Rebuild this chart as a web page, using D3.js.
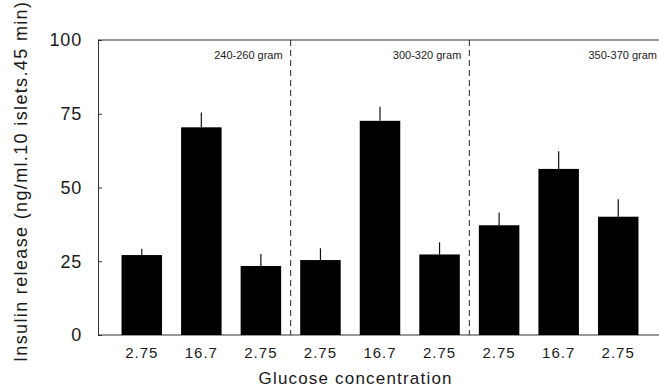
<!DOCTYPE html>
<html>
<head>
<meta charset="utf-8">
<script src="https://cdn.jsdelivr.net/npm/d3@7"></script>
<style>
  body { margin: 0; background: #fff; }
  text { font-family: "Liberation Sans", Arial, sans-serif; fill: #1a1a1a; }
</style>
</head>
<body>
<div id="chart"></div>
<script>
// data
const glucose = ["2.75", "16.7", "2.75", "2.75", "16.7", "2.75", "2.75", "16.7", "2.75"];
const insulin = [27.1, 70.4, 23.4, 25.4, 72.6, 27.3, 37.2, 56.3, 40.1];
const sem = [2.1, 5.0, 4.1, 4.0, 4.8, 4.1, 4.3, 6.0, 5.9];
const groups = ["240-260 gram", "300-320 gram", "350-370 gram"];
const yTicks = [0, 25, 50, 75, 100];

const width = 659, height = 392;
const plotLeft = 98, plotRight = 659, plotTop = 40, plotBottom = 335;

const svg = d3.select("#chart").append("svg")
    .attr("width", width)
    .attr("height", height);

const ids = glucose.map((g, i) => i);

const x = d3.scaleBand()
    .domain(ids)
    .range([112, 648])
    .paddingInner(0.32)
    .paddingOuter(0.16);

const y = d3.scaleLinear()
    .domain([0, 100])
    .range([plotBottom, plotTop]);

// frame: top line, bottom line
svg.append("line")
    .attr("x1", plotLeft).attr("x2", plotRight)
    .attr("y1", plotTop).attr("y2", plotTop)
    .attr("stroke", "#333").attr("stroke-width", 1);

svg.append("line")
    .attr("x1", plotLeft).attr("x2", plotRight)
    .attr("y1", plotBottom).attr("y2", plotBottom)
    .attr("stroke", "#333").attr("stroke-width", 1.2);

// y axis with inward ticks
const yAxis = svg.append("g")
    .attr("transform", `translate(${plotLeft},0)`)
    .call(d3.axisLeft(y).tickValues(yTicks).tickSize(-4).tickPadding(16));
yAxis.select(".domain").attr("stroke", "#333");
yAxis.selectAll(".tick line").attr("stroke", "#333");
yAxis.selectAll(".tick text")
    .attr("font-size", "18px")
    .attr("font-family", "Liberation Sans, Arial, sans-serif")
    .attr("fill", "#1a1a1a")
    .style("letter-spacing", "0.8px");

// group dividers (dashed)
const step = x.step();
[3, 6].forEach(i => {
    const xd = x(i) - (step - x.bandwidth()) / 2;
    svg.append("line")
        .attr("x1", xd).attr("x2", xd)
        .attr("y1", plotTop).attr("y2", plotBottom)
        .attr("stroke", "#222")
        .attr("stroke-width", 1)
        .attr("stroke-dasharray", "6,4");
});

// group labels, right-aligned just left of each divider / right edge
groups.forEach((g, k) => {
    const lastBar = k * 3 + 2;
    const xe = x(lastBar) + x.bandwidth() + (step - x.bandwidth()) / 2 - 8;
    svg.append("text")
        .attr("x", k === 2 ? 657 : xe)
        .attr("y", 59)
        .attr("font-size", "11px")
        .style("text-anchor", "end")
        .text(g);
});

// error bars (upper only)
svg.selectAll(".err")
    .data(ids)
    .enter().append("line")
    .attr("class", "err")
    .attr("x1", d => x(d) + x.bandwidth() / 2)
    .attr("x2", d => x(d) + x.bandwidth() / 2)
    .attr("y1", d => y(insulin[d]))
    .attr("y2", d => y(insulin[d] + sem[d]))
    .attr("stroke", "#111")
    .attr("stroke-width", 1.2);

// bars
svg.selectAll(".bar")
    .data(ids)
    .enter().append("rect")
    .attr("class", "bar")
    .attr("x", d => x(d))
    .attr("y", d => y(insulin[d]))
    .attr("width", x.bandwidth())
    .attr("height", d => y(0) - y(insulin[d]))
    .attr("fill", "#000");

// x tick labels
svg.selectAll(".xlab")
    .data(ids)
    .enter().append("text")
    .attr("class", "xlab")
    .attr("x", d => x(d) + x.bandwidth() / 2)
    .attr("y", 358)
    .attr("font-size", "15px")
    .style("text-anchor", "middle")
    .style("letter-spacing", "1px")
    .text(d => glucose[d]);

// axis titles
svg.append("text")
    .attr("x", 355)
    .attr("y", 384)
    .attr("font-size", "17px")
    .style("text-anchor", "middle")
    .attr("textLength", 193)
    .attr("lengthAdjust", "spacing")
    .text("Glucose concentration");

svg.append("text")
    .attr("transform", "translate(27,182) rotate(-90)")
    .attr("font-size", "18px")
    .style("text-anchor", "middle")
    .attr("textLength", 360)
    .attr("lengthAdjust", "spacing")
    .text("Insulin release (ng/ml.10 islets.45 min)");
</script>
</body>
</html>
